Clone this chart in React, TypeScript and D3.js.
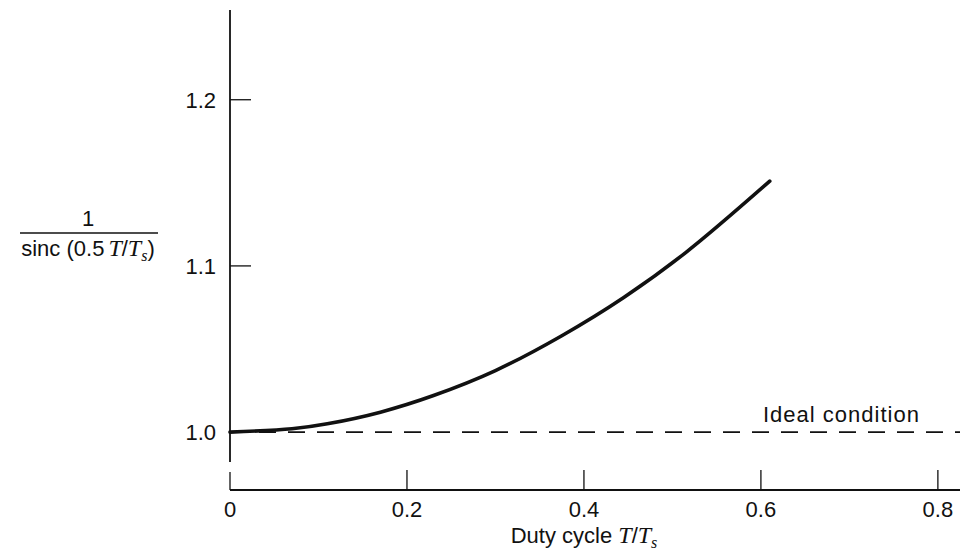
import * as d3 from "d3";

// curve: 1 / sinc(0.5 T/Ts) vs duty cycle
const dutyCycle = [0, 0.07, 0.11, 0.17, 0.23, 0.3, 0.375, 0.445, 0.515, 0.61];
const gainValues = [1.0, 1.002, 1.005, 1.012, 1.022, 1.037, 1.058, 1.081, 1.108, 1.151];

// "Ideal condition" dashed reference
const idealCycle = [0, 0.825];
const idealValues = [1.0, 1.0];

const xTicks = [0, 0.2, 0.4, 0.6, 0.8];
const xTickLabels = ["0", "0.2", "0.4", "0.6", "0.8"];
const yLabelValues = [1.0, 1.1, 1.2];
const yTickLabels = ["1.0", "1.1", "1.2"];
const yTickMarks = [1.1, 1.2];

const width = 960;
const height = 556;
const font = "'Liberation Sans', Arial, sans-serif";
const mathFont = "'Liberation Serif', 'Times New Roman', serif";

function App() {
  const x = d3.scaleLinear().domain([0, 0.825]).range([230, 960]);
  const y = d3.scaleLinear().domain([0.982, 1.254]).range([462, 10]);
  const axisY = 490; // x axis sits below the y axis, detached

  const curve = d3
    .line<number>()
    .x((d, i) => x(dutyCycle[i]))
    .y((d) => y(d))
    .curve(d3.curveCatmullRom.alpha(0.5));

  const ideal = d3
    .line<number>()
    .x((d, i) => x(idealCycle[i]))
    .y((d) => y(d));

  return (
    <svg
      width={width}
      height={height}
      style={{ position: "absolute", left: 0, top: 0, background: "#fff" }}
      fontFamily={font}
      fill="#111"
    >
      {/* y axis */}
      <line x1={x(0)} x2={x(0)} y1={y(1.254)} y2={y(0.982)} stroke="#111" strokeWidth={1.8} />
      {yTickMarks.map((v) => (
        <line key={v} x1={x(0)} x2={x(0) + 21} y1={y(v)} y2={y(v)} stroke="#111" strokeWidth={1.3} />
      ))}
      {yLabelValues.map((v, i) => (
        <text key={v} x={x(0) - 14} y={y(v)} dy="0.36em" textAnchor="end" fontSize={22}>
          {yTickLabels[i]}
        </text>
      ))}

      {/* y axis title as a fraction */}
      <g transform="translate(88,0)">
        <text x={0} y={226} textAnchor="middle" fontSize={22}>1</text>
        <line x1={-68} x2={70} y1={233} y2={233} stroke="#111" strokeWidth={1.3} />
        <text x={0} y={256} textAnchor="middle" fontSize={22}>
          sinc (0.5
          <tspan fontFamily={mathFont} fontStyle="italic" fontSize={24} dx={4}>T</tspan>
          /
          <tspan fontFamily={mathFont} fontStyle="italic" fontSize={24}>T</tspan>
          <tspan fontFamily={mathFont} fontStyle="italic" fontSize={16} dy={5}>s</tspan>
          <tspan dy={-5}>)</tspan>
        </text>
      </g>

      {/* x axis */}
      <line x1={x(0)} x2={width} y1={axisY} y2={axisY} stroke="#111" strokeWidth={1.8} />
      {xTicks.map((v, i) => (
        <g key={v} transform={`translate(${x(v)},${axisY})`}>
          <line y1={0} y2={i === 0 ? -18 : -20} stroke="#111" strokeWidth={1.3} />
          <text y={27} textAnchor="middle" fontSize={22}>
            {xTickLabels[i]}
          </text>
        </g>
      ))}
      <text x={584} y={543} textAnchor="middle" fontSize={22}>
        Duty cycle{" "}
        <tspan fontFamily={mathFont} fontStyle="italic" fontSize={24}>T</tspan>
        /
        <tspan fontFamily={mathFont} fontStyle="italic" fontSize={24}>T</tspan>
        <tspan fontFamily={mathFont} fontStyle="italic" fontSize={16} dy={5}>s</tspan>
      </text>

      {/* ideal condition dashed line */}
      <path
        d={ideal(idealValues) ?? ""}
        fill="none"
        stroke="#111"
        strokeWidth={1.6}
        strokeDasharray="17 12"
      />
      <text x={763} y={y(1.0) - 10} fontSize={22} letterSpacing={1}>
        Ideal condition
      </text>

      {/* main curve */}
      <path d={curve(gainValues) ?? ""} fill="none" stroke="#111" strokeWidth={3.6} strokeLinecap="round" />
    </svg>
  );
}

export default App;
